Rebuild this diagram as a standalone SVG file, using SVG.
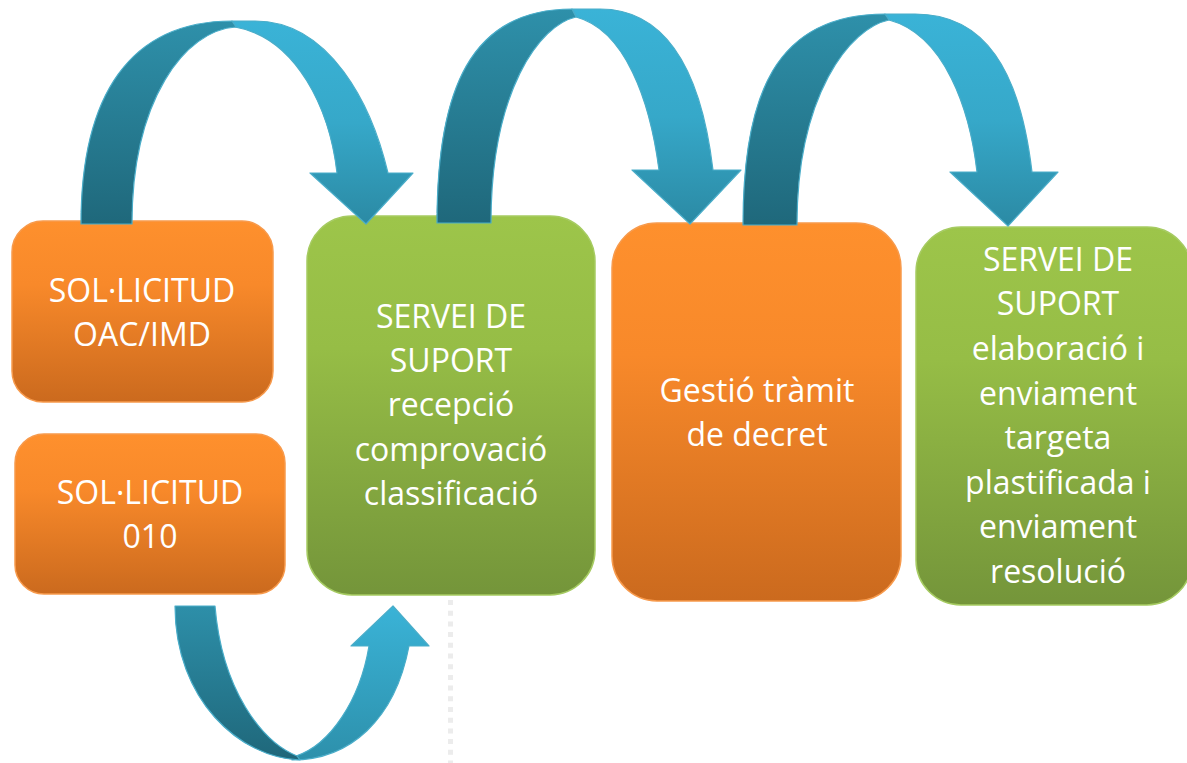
<svg xmlns="http://www.w3.org/2000/svg" width="1187" height="763" viewBox="0 0 1187 763">
  <defs>
    <linearGradient id="gOrange" x1="0" y1="0" x2="0" y2="1">
      <stop offset="0" stop-color="#fe902d"/>
      <stop offset="0.35" stop-color="#f8892a"/>
      <stop offset="1" stop-color="#cb6a1e"/>
    </linearGradient>
    <linearGradient id="gGreen" x1="0" y1="0" x2="0" y2="1">
      <stop offset="0" stop-color="#9dc54a"/>
      <stop offset="0.35" stop-color="#96bd46"/>
      <stop offset="1" stop-color="#74953a"/>
    </linearGradient>
    <linearGradient id="gDark" x1="0" y1="0" x2="0" y2="1">
      <stop offset="0" stop-color="#2e90aa"/>
      <stop offset="1" stop-color="#1f687b"/>
    </linearGradient>
    <linearGradient id="gLight" x1="0" y1="0" x2="0" y2="1">
      <stop offset="0" stop-color="#3ab3d7"/>
      <stop offset="0.5" stop-color="#36a8c9"/>
      <stop offset="1" stop-color="#2b8aa4"/>
    </linearGradient>
    <linearGradient id="gDarkUp" x1="0" y1="0" x2="0" y2="1">
      <stop offset="0" stop-color="#2d8fa9"/>
      <stop offset="1" stop-color="#1f677a"/>
    </linearGradient>
    <linearGradient id="gLightUp" x1="0" y1="0" x2="0" y2="1">
      <stop offset="0" stop-color="#3ab3d7"/>
      <stop offset="1" stop-color="#2d90ab"/>
    </linearGradient>
  </defs>
  <style>
    .orange { fill: url(#gOrange); stroke: #f79a4c; stroke-width: 1.5; }
    .green { fill: url(#gGreen); stroke: #a6cb62; stroke-width: 1.5; }
    .dark { fill: url(#gDark); stroke: #4aadc9; stroke-width: 1.2; stroke-linejoin: round; }
    .light { fill: url(#gLight); stroke: #4aadc9; stroke-width: 1.2; stroke-linejoin: round; }
    .darkUp { fill: url(#gDarkUp); stroke: #4aadc9; stroke-width: 1.2; stroke-linejoin: round; }
    .lightUp { fill: url(#gLightUp); stroke: #4aadc9; stroke-width: 1.2; stroke-linejoin: round; }
    .label { font-family: "Open Sans", "Liberation Sans", sans-serif; font-size: 32px; fill: #ffffff; text-anchor: middle; }
  </style>

  <line x1="450.5" y1="600" x2="450.5" y2="763" stroke="#ececec" stroke-width="5" stroke-dasharray="5 5.7"/>

  <g id="node-solicitud-oac">
    <rect class="orange" x="12" y="221" width="261" height="181" rx="31" ry="31"/>
    <text class="label" x="142" y="302">SOL·LICITUD</text>
    <text class="label" x="142" y="346">OAC/IMD</text>
  </g>

  <g id="node-solicitud-010">
    <rect class="orange" x="15" y="434" width="270" height="160" rx="29" ry="29"/>
    <text class="label" x="150" y="504">SOL·LICITUD</text>
    <text class="label" x="150" y="548">010</text>
  </g>

  <g id="node-servei-recepcio">
    <rect class="green" x="307" y="216" width="288" height="379" rx="45" ry="45"/>
    <text class="label" x="451" y="328">SERVEI DE</text>
    <text class="label" x="451" y="372">SUPORT</text>
    <text class="label" x="451" y="416">recepció</text>
    <text class="label" x="451" y="461">comprovació</text>
    <text class="label" x="451" y="505">classificació</text>
  </g>

  <g id="node-gestio">
    <rect class="orange" x="612" y="223" width="289" height="378" rx="45" ry="45"/>
    <text class="label" x="757" y="402">Gestió tràmit</text>
    <text class="label" x="757" y="446">de decret</text>
  </g>

  <g id="node-servei-elaboracio">
    <rect class="green" x="916" y="227" width="276" height="378" rx="45" ry="45"/>
    <text class="label" x="1058" y="271">SERVEI DE</text>
    <text class="label" x="1058" y="315">SUPORT</text>
    <text class="label" x="1058" y="360">elaboració i</text>
    <text class="label" x="1058" y="405">enviament</text>
    <text class="label" x="1058" y="449">targeta</text>
    <text class="label" x="1058" y="494">plastificada i</text>
    <text class="label" x="1058" y="538">enviament</text>
    <text class="label" x="1058" y="583">resolució</text>
  </g>

  <g id="connectors">
    <g id="arrow-oac-to-servei">
      <path class="light" d="M 255,21 C 330,21 372,105 388,173 L 413,173 L 366,224 L 310,173 L 337,173 C 330,110 297,38 235,27 L 232,21 Z"/>
      <path class="dark" d="M 81,224 C 81,95 130,21 232,21 L 236,27 C 185,30 132,100 132,224 Z"/>
    </g>
    <g id="arrow-servei-to-gestio">
      <path class="light" d="M 600,9 C 660,9 700,60 713,170 L 741,170 L 690,224 L 632,170 L 659,170 C 650,100 625,30 576,17 L 572,9 Z"/>
      <path class="dark" d="M 437,223 C 437,90 470,9 572,9 L 576,17 C 540,25 491,90 491,223 Z"/>
    </g>
    <g id="arrow-gestio-to-elaboracio">
      <path class="light" d="M 915,14 C 985,14 1020,70 1032,172 L 1058,172 L 1008,226 L 950,172 L 977,172 C 970,110 945,35 889,20 L 885,14 Z"/>
      <path class="dark" d="M 743,225 C 743,95 775,14 885,14 L 889,20 C 850,28 797,95 797,225 Z"/>
    </g>
    <g id="arrow-010-to-servei">
      <path class="lightUp" d="M 292,760 C 350,760 395,720 409,646 L 429,646 L 393,606 L 351,646 L 369,646 C 360,700 330,745 296,756 Z"/>
      <path class="darkUp" d="M 175,606 L 215,606 C 222,690 262,742 297,756 L 300,760 C 240,758 175,700 175,606 Z"/>
    </g>
  </g>
</svg>
